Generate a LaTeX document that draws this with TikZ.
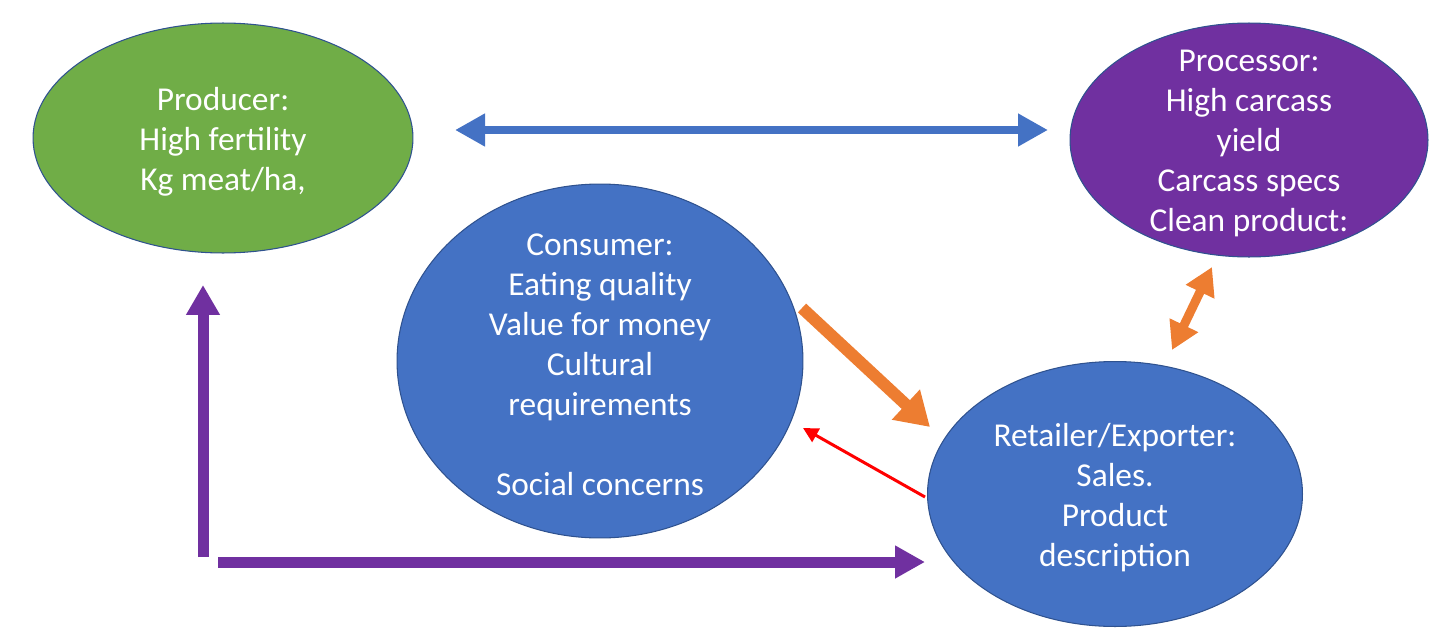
\documentclass[tikz,border=0pt]{standalone}
\usepackage{fontspec}
\setmainfont{Carlito}
\usetikzlibrary{arrows.meta, shapes.geometric}
\definecolor{prodgreen}{HTML}{70AD47}
\definecolor{procpurple}{HTML}{7030A0}
\definecolor{consblue}{HTML}{4472C4}
\definecolor{edgeblue}{HTML}{2F528F}
\definecolor{arrorange}{HTML}{ED7D31}
\definecolor{arrpurple}{HTML}{7030A0}

\begin{document}
\begin{tikzpicture}[x = 0.02cm, y = -0.02cm,
  blob/.style = {ellipse, draw = edgeblue, line width = 0.6pt, inner sep = 0pt},
  txt/.style = {text = white, align = center, inner sep = 0pt, yshift = -0.07cm, font = \fontsize{19}{22.8}\selectfont},
  fat/.style = {line width = #1, line cap = butt}]
\useasboundingbox (0,0) rectangle (1440,632);
\node[blob, fill = prodgreen, minimum width = 7.6cm, minimum height = 4.6cm, label = {[txt]center:Producer:\\High fertility\\Kg meat/ha,}](prod) at (223,138) {};
\node[blob, fill = procpurple, minimum width = 7.16cm, minimum height = 4.68cm, label = {[txt]center:Processor:\\High carcass\\yield\\Carcass specs\\Clean product:}](proc) at (1249,140) {};
\node[blob, fill = consblue, minimum width = 8.12cm, minimum height = 7.08cm, label = {[txt]center:Consumer:\\Eating quality\\Value for money\\Cultural\\requirements\\[22.8pt]Social concerns}](cons) at (600,361) {};
\node[blob, fill = consblue, minimum width = 7.5cm, minimum height = 5.3cm, label = {[txt]center:Retailer/Exporter:\\Sales.\\Product\\description}](ret) at (1115,494) {};
\coordinate (bl) at (455,130);
\coordinate (br) at (1048,130);
\coordinate (up0) at (203,557);
\coordinate (up1) at (203,285);
\coordinate (hz0) at (218,562);
\coordinate (hz1) at (925,562);
\coordinate (or0) at (802,308);
\coordinate (or1) at (930,427);
\coordinate (od0) at (1172,350);
\coordinate (od1) at (1212,267);
\coordinate (rd0) at (925,497);
\coordinate (rd1) at (803,428);
\draw[consblue, fat = 0.15cm, {Triangle[width = 0.62cm, length = 0.6cm]}-{Triangle[width = 0.62cm, length = 0.6cm]}] (bl) -- (br);
\draw[arrpurple, fat = 0.22cm, -{Triangle[width = 0.64cm, length = 0.6cm]}] (up0) -- (up1);
\draw[arrpurple, fat = 0.22cm, -{Triangle[width = 0.62cm, length = 0.6cm]}] (hz0) -- (hz1);
\draw[arrorange, fat = 0.24cm, -{Triangle[width = 0.78cm, length = 0.66cm]}] (or0) -- (or1);
\draw[arrorange, fat = 0.18cm, {Triangle[width = 0.6cm, length = 0.55cm]}-{Triangle[width = 0.6cm, length = 0.55cm]}] (od0) -- (od1);
\draw[red, fat = 0.06cm, -{Triangle[width = 0.3cm, length = 0.3cm]}] (rd0) -- (rd1);
\end{tikzpicture}
\end{document}
